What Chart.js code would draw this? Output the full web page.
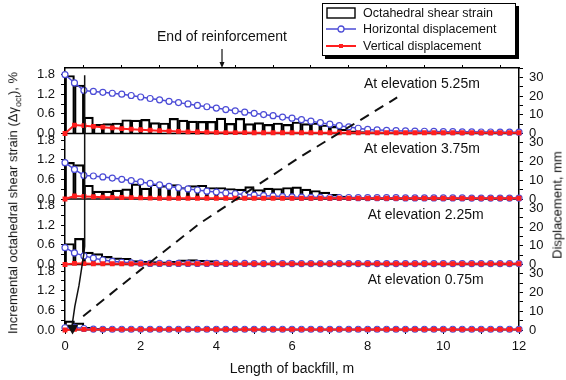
<!DOCTYPE html>
<html>
<head>
<meta charset="utf-8">
<script src="https://cdn.jsdelivr.net/npm/chart.js@4.4.1/dist/chart.umd.min.js"></script>
<style>
  body { margin: 0; background: #fff; }
  #wrap { position: relative; width: 566px; height: 380px; font-family: 'Liberation Sans', Arial, sans-serif; color: #111; }
  #grafico { position: absolute; left: 0; top: 0; }
  .ytitle { position: absolute; white-space: nowrap; font-size: 13px; transform: translate(-50%, -50%) rotate(-90deg); }
  .ytitle sub { font-size: 9px; }
  #legenda { position: absolute; left: 322px; top: 3px; width: 192px; height: 51px; border: 1px solid #000; box-shadow: 3px 3px 0 #000; background: #fff; font-size: 12.5px; }
  .item { position: absolute; left: 3px; height: 16px; display: flex; align-items: center; white-space: nowrap; }
  .item svg { margin-right: 7px; }
</style>
</head>
<body>
<div id="wrap">
  <canvas id="grafico" width="566" height="380"></canvas>
  <div class="ytitle" style="left:14px; top:203px;">Incremental octahedral shear strain (&Delta;&gamma;<sub>oct</sub>), %</div>
  <div class="ytitle" style="left:557px; top:205px;">Displacement, mm</div>
  <div id="legenda">
    <div class="item" style="top:1px;"><svg width="30" height="12"><rect x="1" y="1" width="28" height="10" fill="#fff" stroke="#000" stroke-width="1.4"/></svg>Octahedral shear strain</div>
    <div class="item" style="top:17px;"><svg width="30" height="10"><line x1="0" y1="5" x2="30" y2="5" stroke="#4b4bd6" stroke-width="1.5"/><circle cx="15" cy="5" r="3" fill="#fff" stroke="#4b4bd6" stroke-width="1.3"/></svg>Horizontal displacement</div>
    <div class="item" style="top:34px;"><svg width="30" height="10"><line x1="0" y1="5" x2="30" y2="5" stroke="#ff1f1f" stroke-width="2"/><rect x="13" y="3" width="4" height="4" fill="#ff1f1f"/></svg>Vertical displacement</div>
  </div>
</div>
<script>
const graf = document.getElementById("grafico");

// pontos das curvas (m)
const lineX = [0, 0.25, 0.5, 0.75, 1, 1.25, 1.5, 1.75, 2, 2.25, 2.5, 2.75, 3, 3.25, 3.5, 3.75,
  4, 4.25, 4.5, 4.75, 5, 5.25, 5.5, 5.75, 6, 6.25, 6.5, 6.75, 7, 7.25, 7.5, 7.75,
  8, 8.25, 8.5, 8.75, 9, 9.25, 9.5, 9.75, 10, 10.25, 10.5, 10.75, 11, 11.25, 11.5, 11.75, 12];
// barras: intervalos de 0.25 m, centro de cada um
const binMid = lineX.slice(0, 48).map(v => v + 0.125);

const elevations = ["At elevation 5.25m", "At elevation 3.75m", "At elevation 2.25m", "At elevation 0.75m"];

// deformacao cisalhante octaedrica incremental, %
const strain525 = [1.77, 1.48, 0.50, 0.28, 0.30, 0.32, 0.42, 0.41, 0.43, 0.33,
  0.32, 0.46, 0.41, 0.38, 0.37, 0.37, 0.47, 0.31, 0.46, 0.30,
  0.33, 0.28, 0.32, 0.28, 0.35, 0.30, 0.32, 0.26, 0.22, 0.13,
  0.08, 0.06, 0.05, 0.04, 0.04, 0.04, 0.03, 0.03, 0.03, 0.03,
  0.03, 0.03, 0.03, 0.03, 0.03, 0.03, 0.03, 0.03];
const strain375 = [1.12, 1.05, 0.42, 0.24, 0.24, 0.27, 0.31, 0.46, 0.33, 0.45,
  0.41, 0.44, 0.35, 0.41, 0.42, 0.35, 0.35, 0.32, 0.30, 0.38,
  0.29, 0.33, 0.32, 0.35, 0.37, 0.30, 0.26, 0.21, 0.14, 0.09,
  0.06, 0.05, 0.04, 0.04, 0.03, 0.03, 0.03, 0.03, 0.03, 0.03,
  0.03, 0.03, 0.03, 0.03, 0.03, 0.03, 0.03, 0.03];
const strain225 = [0.64, 0.80, 0.38, 0.33, 0.25, 0.20, 0.19, 0.12, 0.10, 0.09,
  0.08, 0.10, 0.14, 0.15, 0.13, 0.12, 0.06, 0.05, 0.04, 0.04,
  0.03, 0.03, 0.03, 0.03, 0.03, 0.03, 0.03, 0.03, 0.03, 0.03,
  0.03, 0.03, 0.03, 0.03, 0.03, 0.03, 0.03, 0.03, 0.03, 0.03,
  0.03, 0.03, 0.03, 0.03, 0.03, 0.03, 0.03, 0.03];
const strain075 = [0.28, 0.22, 0.08, 0.05, 0.04, 0.03, 0.02, 0.02, 0.02, 0.02,
  0.02, 0.02, 0.02, 0.02, 0.02, 0.02, 0.02, 0.02, 0.02, 0.02,
  0.02, 0.02, 0.02, 0.02, 0.02, 0.02, 0.02, 0.02, 0.02, 0.02,
  0.02, 0.02, 0.02, 0.02, 0.02, 0.02, 0.02, 0.02, 0.02, 0.02,
  0.02, 0.02, 0.02, 0.02, 0.02, 0.02, 0.02, 0.02];

// deslocamento horizontal, mm
const horiz525 = [31.5, 27.0, 23.0, 22.5, 22.0, 21.5, 21.0, 20.3, 19.5, 18.7,
  18.0, 17.2, 16.5, 15.8, 15.0, 14.3, 13.6, 12.8, 12.1, 11.4,
  10.8, 10.1, 9.5, 8.8, 8.2, 7.4, 6.6, 5.8, 5.0, 4.2,
  3.5, 2.8, 2.2, 1.9, 1.7, 1.5, 1.4, 1.3, 1.2, 1.1,
  1.0, 1.0, 0.9, 0.9, 0.8, 0.8, 0.7, 0.7, 0.7];
const horiz375 = [19.4, 15.8, 12.6, 12.3, 11.8, 11.2, 10.5, 9.8, 9.1, 8.3,
  7.5, 6.7, 6.0, 5.4, 4.8, 4.2, 3.7, 3.2, 2.8, 2.4,
  2.1, 1.8, 1.6, 1.3, 1.1, 1.0, 0.9, 0.9, 0.8, 0.8,
  0.8, 0.7, 0.7, 0.7, 0.7, 0.7, 0.6, 0.6, 0.6, 0.6,
  0.6, 0.6, 0.6, 0.5, 0.5, 0.5, 0.5, 0.5, 0.5];
const horiz225 = [9.0, 6.2, 4.6, 3.4, 2.4, 1.7, 1.2, 0.9, 0.7, 0.6,
  0.6, 0.6, 0.6, 0.6, 0.6, 0.6, 0.6, 0.6, 0.6, 0.6,
  0.5, 0.5, 0.5, 0.5, 0.5, 0.5, 0.5, 0.5, 0.5, 0.5,
  0.5, 0.5, 0.5, 0.5, 0.5, 0.5, 0.5, 0.5, 0.5, 0.5,
  0.5, 0.5, 0.5, 0.5, 0.5, 0.5, 0.5, 0.5, 0.5];
const horiz075 = [1.2, 1.4, 0.8, 0.5, 0.4, 0.4, 0.4, 0.4, 0.4, 0.4,
  0.4, 0.4, 0.4, 0.4, 0.4, 0.4, 0.4, 0.4, 0.4, 0.4,
  0.4, 0.4, 0.4, 0.4, 0.4, 0.4, 0.4, 0.4, 0.4, 0.4,
  0.4, 0.4, 0.4, 0.4, 0.4, 0.4, 0.4, 0.4, 0.4, 0.4,
  0.4, 0.4, 0.4, 0.4, 0.4, 0.4, 0.4, 0.4, 0.4];

// deslocamento vertical, mm
const vert525 = [0, 4.5, 4.2, 3.8, 3.4, 3.0, 2.6, 2.3, 2.0, 1.8,
  1.5, 1.3, 1.1, 0.9, 0.8, 0.7, 0.6, 0.5, 0.5, 0.5,
  0.4, 0.4, 0.4, 0.4, 0.4, 0.4, 0.4, 0.4, 0.4, 0.4,
  0.4, 0.4, 0.4, 0.4, 0.4, 0.4, 0.4, 0.4, 0.4, 0.4,
  0.4, 0.4, 0.4, 0.4, 0.4, 0.4, 0.4, 0.4, 0.4];
const vert375 = [0, 1.6, 1.4, 1.2, 1.0, 0.9, 0.8, 0.7, 0.6, 0.5,
  0.4, 0.4, 0.4, 0.4, 0.4, 0.4, 0.4, 0.4, 0.4, 0.4,
  0.4, 0.4, 0.4, 0.4, 0.4, 0.4, 0.4, 0.4, 0.4, 0.4,
  0.4, 0.4, 0.4, 0.4, 0.4, 0.4, 0.4, 0.4, 0.4, 0.4,
  0.4, 0.4, 0.4, 0.4, 0.4, 0.4, 0.4, 0.4, 0.4];
const vert225 = [0, 0.6, 0.5, 0.4, 0.4, 0.4, 0.4, 0.4, 0.4, 0.4,
  0.4, 0.4, 0.4, 0.4, 0.4, 0.4, 0.4, 0.4, 0.4, 0.4,
  0.4, 0.4, 0.4, 0.4, 0.4, 0.4, 0.4, 0.4, 0.4, 0.4,
  0.4, 0.4, 0.4, 0.4, 0.4, 0.4, 0.4, 0.4, 0.4, 0.4,
  0.4, 0.4, 0.4, 0.4, 0.4, 0.4, 0.4, 0.4, 0.4];
const vert075 = [0, 0.3, 0.3, 0.3, 0.3, 0.3, 0.3, 0.3, 0.3, 0.3,
  0.3, 0.3, 0.3, 0.3, 0.3, 0.3, 0.3, 0.3, 0.3, 0.3,
  0.3, 0.3, 0.3, 0.3, 0.3, 0.3, 0.3, 0.3, 0.3, 0.3,
  0.3, 0.3, 0.3, 0.3, 0.3, 0.3, 0.3, 0.3, 0.3, 0.3,
  0.3, 0.3, 0.3, 0.3, 0.3, 0.3, 0.3, 0.3, 0.3];

// superficie de ruptura (tracejada) e linha de tracao maxima (cheia), em "paineis" (0 a 4)
const slipX = [0.48, 1.98, 3.57, 6.21, 8.78];
const slipY = [0.21, 0.91, 1.63, 2.64, 3.55];
const curveX = [0.52, 0.52, 0.50, 0.37, 0.26, 0.19, 0.20];
const curveY = [3.89, 1.28, 1.17, 0.68, 0.36, 0.08, 0.03];

const endReinfX = 4.15;
const elevX = [7.9, 7.9, 8.0, 8.0];

const strains = [strain525, strain375, strain225, strain075];
const horizs = [horiz525, horiz375, horiz225, horiz075];
const verts = [vert525, vert375, vert225, vert075];

const azul = "#4b4bd6";
const verm = "#ff1f1f";

let datasets = [];
for (let p = 0; p < 4; p++) {
  datasets.push({
    type: "bar",
    label: "Octahedral shear strain",
    data: binMid.map((x, i) => ({x: x, y: strains[p][i]})),
    yAxisID: "yL" + (p + 1),
    backgroundColor: "rgba(255,255,255,0)",
    borderColor: "#000",
    borderWidth: 1.5,
    barPercentage: 1,
    categoryPercentage: 1,
    grouped: false,
    order: 3
  });
  datasets.push({
    type: "line",
    label: "Horizontal displacement",
    data: lineX.map((x, i) => ({x: x, y: horizs[p][i]})),
    yAxisID: "yR" + (p + 1),
    borderColor: azul,
    borderWidth: 1.5,
    pointRadius: 3,
    pointBackgroundColor: "#fff",
    pointBorderColor: azul,
    pointBorderWidth: 1.2,
    clip: false,
    order: 2
  });
  datasets.push({
    type: "line",
    label: "Vertical displacement",
    data: lineX.map((x, i) => ({x: x, y: verts[p][i]})),
    yAxisID: "yR" + (p + 1),
    borderColor: verm,
    borderWidth: 2,
    pointStyle: "rect",
    pointRadius: 2,
    pointBackgroundColor: verm,
    pointBorderColor: verm,
    clip: false,
    order: 1
  });
}
datasets.push({
  type: "line",
  data: slipX.map((x, i) => ({x: x, y: slipY[i]})),
  yAxisID: "yAll",
  borderColor: "#111",
  borderWidth: 2,
  borderDash: [10, 7],
  pointRadius: 0,
  clip: false,
  order: 0
});
datasets.push({
  type: "line",
  data: curveX.map((x, i) => ({x: x, y: curveY[i]})),
  yAxisID: "yAll",
  borderColor: "#111",
  borderWidth: 1.5,
  pointRadius: curveX.map((v, i) => i === curveX.length - 1 ? 5 : 0),
  pointStyle: "triangle",
  pointRotation: 180,
  pointBackgroundColor: "#111",
  pointBorderColor: "#111",
  clip: false,
  order: 0
});

function eixoEsq() {
  return {
    type: "linear", position: "left", stack: "esq", stackWeight: 1,
    min: 0, max: 2.0,
    border: {color: "#000", width: 1.5},
    grid: {drawOnChartArea: false, color: "#000", tickLength: 4},
    ticks: {
      stepSize: 0.3, autoSkip: false, includeBounds: false, padding: 6, color: "#111", font: {size: 13},
      callback: v => (Math.abs(v / 0.6 - Math.round(v / 0.6)) < 1e-6 && v < 1.9) ? v.toFixed(1) : ""
    },
    afterFit: s => { s.width = 65; }
  };
}
function eixoDir() {
  return {
    type: "linear", position: "right", stack: "dir", stackWeight: 1,
    min: 0, max: 35,
    border: {color: "#000", width: 1.5},
    grid: {drawOnChartArea: false, color: "#000", tickLength: 4},
    ticks: {
      stepSize: 5, autoSkip: false, includeBounds: false, padding: 6, color: "#111", font: {size: 13},
      callback: v => (v % 10 === 0 && v <= 30) ? v : ""
    },
    afterFit: s => { s.width = 47; }
  };
}

const extras = {
  id: "extras",
  beforeDatasetsDraw(chart) {
    const {ctx, chartArea} = chart;
    ctx.save();
    ctx.strokeStyle = "#000";
    ctx.lineWidth = 1.5;
    ["yL1", "yL2", "yL3"].forEach(id => {
      const s = chart.scales[id];
      ctx.beginPath();
      ctx.moveTo(chartArea.left, s.bottom);
      ctx.lineTo(chartArea.right, s.bottom);
      ctx.stroke();
    });
    ctx.restore();
  },
  afterDraw(chart) {
    const {ctx, chartArea} = chart;
    const xs = chart.scales.x;
    ctx.save();
    ctx.fillStyle = "#111";
    ctx.font = "14px 'Liberation Sans', Arial, sans-serif";
    ctx.textBaseline = "middle";
    ctx.textAlign = "left";
    ["yL1", "yL2", "yL3", "yL4"].forEach((id, p) => {
      const s = chart.scales[id];
      ctx.fillText(elevations[p], xs.getPixelForValue(elevX[p]), s.top + 16);
    });
    // fim do reforco
    const xe = xs.getPixelForValue(endReinfX);
    ctx.textAlign = "center";
    ctx.fillText("End of reinforcement", xe, chartArea.top - 31);
    ctx.strokeStyle = "#111";
    ctx.lineWidth = 1.2;
    ctx.beginPath();
    ctx.moveTo(xe, chartArea.top - 19);
    ctx.lineTo(xe, chartArea.top - 3);
    ctx.stroke();
    ctx.beginPath();
    ctx.moveTo(xe - 2.5, chartArea.top - 6);
    ctx.lineTo(xe + 2.5, chartArea.top - 6);
    ctx.lineTo(xe, chartArea.top);
    ctx.closePath();
    ctx.fill();
    ctx.restore();
  }
};

Chart.defaults.font.family = "'Liberation Sans', Arial, sans-serif";
Chart.defaults.color = "#111";

let conf = {
  type: "bar",
  data: {datasets: datasets},
  options: {
    responsive: false,
    animation: false,
    layout: {padding: {top: 64, left: 0, right: 0, bottom: 0}},
    plugins: {legend: {display: false}, tooltip: {enabled: false}},
    scales: {
      x: {
        type: "linear", position: "bottom", min: 0, max: 12, offset: false,
        border: {color: "#000", width: 1.5},
        grid: {drawOnChartArea: false, color: "#000", tickLength: 4, offset: false},
        ticks: {stepSize: 1, autoSkip: false, maxRotation: 0, padding: 5, font: {size: 13}, color: "#111",
          callback: v => v % 2 === 0 ? v : ""},
        title: {display: true, text: "Length of backfill, m", font: {size: 14}, color: "#111", padding: {top: 4, bottom: 2}},
        afterFit: s => { s.height = 50; }
      },
      xTop: {
        type: "linear", position: "top", min: 0, max: 12, offset: false,
        border: {color: "#000", width: 1.5},
        grid: {drawOnChartArea: false, color: "#000", tickLength: 3},
        ticks: {stepSize: 1, display: false},
        afterFit: s => { s.height = 4; }
      },
      yL4: eixoEsq(),
      yL3: eixoEsq(),
      yL2: eixoEsq(),
      yL1: eixoEsq(),
      yR1: eixoDir(),
      yR2: eixoDir(),
      yR3: eixoDir(),
      yR4: eixoDir(),
      yAll: {type: "linear", position: "left", display: false, min: 0, max: 4}
    }
  },
  plugins: [extras]
};

new Chart(graf, conf);
</script>
</body>
</html>
